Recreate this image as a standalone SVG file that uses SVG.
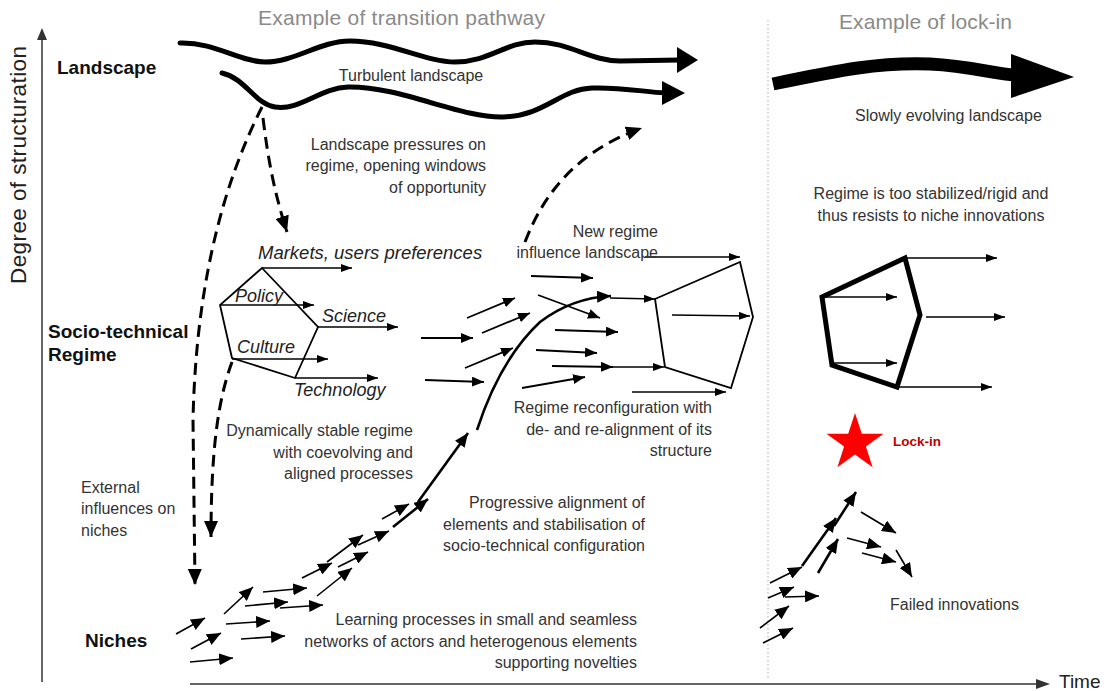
<svg xmlns="http://www.w3.org/2000/svg" width="1109" height="691" viewBox="0 0 1109 691">
<defs>
<style>
.t{font-family:"Liberation Sans",Arial,sans-serif;font-size:16px;fill:#333}
.it{font-family:"Liberation Sans",Arial,sans-serif;font-size:18px;font-style:italic;fill:#222}
.b{font-family:"Liberation Sans",Arial,sans-serif;font-size:19px;font-weight:bold;fill:#111}
.ttl{font-family:"Liberation Sans",Arial,sans-serif;font-size:21px;fill:#8a8a8a}
.e{text-anchor:end}
.m{text-anchor:middle}
.ln{fill:none;stroke:#000;stroke-width:1.8}
.lnS{fill:none;stroke:#000;stroke-width:1.6;marker-end:url(#ahS)}
.lnM{fill:none;stroke:#000;stroke-width:1.8;marker-end:url(#ahM)}
.lnL{fill:none;stroke:#000;stroke-width:1.6;marker-end:url(#ahL)}
.lnT{fill:none;stroke:#000;stroke-width:2.6;marker-end:url(#ahL)}
.dash{fill:none;stroke:#000;stroke-width:3;stroke-dasharray:12 7;marker-end:url(#ahD)}
.wave{fill:none;stroke:#000;stroke-width:5;stroke-linecap:round}
</style>
<marker id="ahS" markerUnits="userSpaceOnUse" markerWidth="11" markerHeight="8" refX="11" refY="4" orient="auto"><path d="M0,0 L11,4 L0,8 z" fill="#000"/></marker>
<marker id="ahM" markerUnits="userSpaceOnUse" markerWidth="12" markerHeight="10" refX="12" refY="5" orient="auto"><path d="M0,0 L12,5 L0,10 z" fill="#000"/></marker>
<marker id="ahL" markerUnits="userSpaceOnUse" markerWidth="14" markerHeight="12" refX="14" refY="6" orient="auto"><path d="M0,0 L14,6 L0,12 z" fill="#000"/></marker>
<marker id="ahD" markerUnits="userSpaceOnUse" markerWidth="16" markerHeight="14" refX="16" refY="7" orient="auto"><path d="M0,0 L16,7 L0,14 z" fill="#000"/></marker>
</defs>
<rect width="1109" height="691" fill="#fff"/>

<g id="axes">
<line x1="42" y1="682" x2="42" y2="38" stroke="#333" stroke-width="1.5"/>
<polygon points="37,40 42,28 47,40" fill="#333"/>
<line x1="190" y1="684" x2="1040" y2="684" stroke="#333" stroke-width="1.5"/>
<polygon points="1036,679 1050,684 1036,689" fill="#333"/>
<line x1="768" y1="20" x2="768" y2="680" stroke="#aaa" stroke-width="1" stroke-dasharray="1.5 2.5"/>
<text class="t" style="font-size:22.5px;fill:#222" transform="translate(26,284) rotate(-90)" textLength="238">Degree of structuration</text>
<text class="t" style="font-size:19px;fill:#222" x="1059" y="688">Time</text>
</g>

<g id="titles">
<text class="ttl" x="258" y="25" textLength="287">Example of transition pathway</text>
<text class="ttl" x="839" y="29" textLength="173">Example of lock-in</text>
</g>

<g id="level-labels">
<text class="b" x="57" y="74">Landscape</text>
<text class="b" x="48" y="338">Socio-technical</text>
<text class="b" x="48" y="361">Regime</text>
<text class="b" x="85" y="647">Niches</text>
</g>

<g id="landscape-turbulent">
<path class="wave" d="M180,43 C215,42 240,62 265,62 C295,62 320,41 350,41 C390,41 425,62 455,62 C490,62 505,42 535,42 C570,42 590,61 620,61 L680,60"/>
<polygon points="677,47 698,60 677,73" fill="#000"/>
<path class="wave" d="M222,73 C245,78 255,104 275,107 C300,111 320,88 348,87 C400,86 460,118 503,117 C545,116 560,89 592,88 C620,87 645,92 665,93"/>
<polygon points="662,81 685,93 662,105" fill="#000"/>
<text class="t m" x="411" y="81">Turbulent landscape</text>
</g>

<g id="landscape-slow">
<path d="M773,84 C840,70 880,62 930,64 C970,66 995,74 1015,75" fill="none" stroke="#000" stroke-width="13"/>
<polygon points="1011,54 1074,77 1011,98" fill="#000"/>
<text class="t" x="855" y="121">Slowly evolving landscape</text>
</g>

<g id="regime-stable">
<polygon class="ln" points="262,268 318,327 295,378 232,358 220,305"/>
<line class="lnS" x1="262" y1="268" x2="352" y2="268"/>
<line class="lnS" x1="220" y1="305" x2="314" y2="305"/>
<line class="lnS" x1="318" y1="327" x2="398" y2="327"/>
<line class="lnS" x1="232" y1="359" x2="328" y2="359"/>
<line class="lnS" x1="295" y1="378" x2="378" y2="378"/>
<text class="it" x="258" y="259" style="font-size:18.5px">Markets, users preferences</text>
<text class="it" x="235" y="302">Policy</text>
<text class="it" x="322" y="322">Science</text>
<text class="it" x="237" y="353">Culture</text>
<text class="it" x="294" y="396">Technology</text>
</g>

<g id="regime-new">
<polygon class="ln" points="655,299 740,262 753,317 731,388 665,367"/>
<line class="lnS" x1="672" y1="315" x2="750" y2="316"/>
</g>

<g id="regime-locked">
<polygon points="905,258 822,297 832,365 897,387 920,315" fill="none" stroke="#000" stroke-width="5" stroke-linejoin="miter"/>
<line class="lnS" x1="905" y1="258" x2="997" y2="258"/>
<line class="lnS" x1="826" y1="297" x2="897" y2="297"/>
<line class="lnS" x1="926" y1="317" x2="1005" y2="317"/>
<line class="lnS" x1="834" y1="363" x2="897" y2="363"/>
<line class="lnS" x1="898" y1="387" x2="992" y2="387"/>
</g>

<g id="lock-in-star">
<polygon points="855,413 861.8,433.7 883.5,433.7 865.9,446.6 872.6,467.3 855,454.5 837.4,467.3 844.1,446.6 826.5,433.7 848.2,433.7" fill="#ff0000"/>
<text class="t" x="893" y="446" style="font-size:13.5px;font-weight:bold;fill:#c00000">Lock-in</text>
</g>

<g id="connectors">
<path class="dash" d="M262,107 C225,180 196,280 193,420 L195,585"/>
<path class="dash" d="M263,118 C268,160 275,195 287,232"/>
<path class="dash" d="M232,362 C218,400 211,450 211,537"/>
<path class="dash" d="M525,242 C545,190 580,150 642,128"/>
<line class="lnM" x1="421" y1="338" x2="473" y2="338"/>
<line class="lnM" x1="425" y1="380" x2="484" y2="382"/>
<line class="lnM" x1="467" y1="318" x2="515" y2="298"/>
<line class="lnM" x1="482" y1="333" x2="530" y2="313"/>
<line class="lnM" x1="465" y1="368" x2="513" y2="348"/>
<line class="lnM" x1="531" y1="276" x2="593" y2="278"/>
<line class="lnM" x1="538" y1="295" x2="600" y2="318"/>
<line class="lnM" x1="555" y1="330" x2="618" y2="332"/>
<line class="lnM" x1="536" y1="350" x2="597" y2="353"/>
<line class="lnM" x1="552" y1="366" x2="613" y2="367"/>
<line class="lnS" x1="610" y1="367" x2="664" y2="367"/>
<line class="lnM" x1="522" y1="388" x2="585" y2="377"/>
<line class="lnS" x1="632" y1="392" x2="726" y2="392"/>
<line class="lnS" x1="645" y1="257" x2="740" y2="257"/>
<line class="lnS" x1="610" y1="298" x2="655" y2="299"/>
<path class="lnT" d="M477,430 C490,390 510,350 540,322 C565,303 590,297 611,296"/>
<line class="lnT" x1="418" y1="502" x2="468" y2="433"/>
<line class="lnT" x1="393" y1="527" x2="428" y2="499"/>
<line class="lnL" x1="382" y1="519" x2="409" y2="504"/>
<line class="lnL" x1="176" y1="634" x2="205" y2="618"/>
<line class="lnL" x1="191" y1="649" x2="221" y2="633"/>
<line class="lnL" x1="190" y1="662" x2="233" y2="658"/>
<line class="lnL" x1="226" y1="624" x2="270" y2="621"/>
<line class="lnL" x1="241" y1="639" x2="285" y2="636"/>
<line class="lnL" x1="224" y1="614" x2="253" y2="587"/>
<line class="lnL" x1="245" y1="606" x2="288" y2="602"/>
<line class="lnL" x1="263" y1="592" x2="307" y2="588"/>
<line class="lnL" x1="280" y1="608" x2="323" y2="605"/>
<line class="lnL" x1="302" y1="578" x2="332" y2="563"/>
<line class="lnL" x1="317" y1="596" x2="352" y2="568"/>
<line class="lnL" x1="327" y1="562" x2="363" y2="535"/>
<line class="lnL" x1="338" y1="567" x2="368" y2="552"/>
<line class="lnL" x1="358" y1="545" x2="389" y2="531"/>
<line class="lnL" x1="763" y1="643" x2="793" y2="628"/>
<line class="lnL" x1="760" y1="628" x2="789" y2="606"/>
<line class="lnL" x1="768" y1="598" x2="794" y2="587"/>
<line class="lnL" x1="785" y1="597" x2="819" y2="596"/>
<line class="lnL" x1="770" y1="583" x2="802" y2="567"/>
<line class="lnT" x1="802" y1="566" x2="836" y2="518"/>
<line class="lnT" x1="834" y1="526" x2="856" y2="492"/>
<line class="lnT" x1="818" y1="573" x2="838" y2="539"/>
<line class="lnL" x1="847" y1="538" x2="881" y2="547"/>
<line class="lnL" x1="861" y1="512" x2="896" y2="533"/>
<line class="lnL" x1="862" y1="553" x2="896" y2="562"/>
<line class="lnL" x1="896" y1="550" x2="912" y2="577"/>
</g>

<g id="annotations">
<text class="t e" x="486" y="150">Landscape pressures on</text>
<text class="t e" x="486" y="171">regime, opening windows</text>
<text class="t e" x="486" y="193">of opportunity</text>
<text class="t m" x="931" y="199">Regime is too stabilized/rigid and</text>
<text class="t m" x="931" y="221">thus resists to niche innovations</text>
<text class="t e" x="658" y="237">New regime</text>
<text class="t e" x="658" y="258">influence landscape</text>
<text class="t e" x="712" y="413">Regime reconfiguration with</text>
<text class="t e" x="712" y="435">de- and re-alignment of its</text>
<text class="t e" x="712" y="456">structure</text>
<text class="t e" x="413" y="436">Dynamically stable regime</text>
<text class="t e" x="413" y="458">with coevolving and</text>
<text class="t e" x="413" y="479">aligned processes</text>
<text class="t e" x="645" y="508">Progressive alignment of</text>
<text class="t e" x="645" y="530">elements and stabilisation of</text>
<text class="t e" x="645" y="551">socio-technical configuration</text>
<text class="t e" x="637" y="625">Learning processes in small and seamless</text>
<text class="t e" x="637" y="647">networks of actors and heterogenous elements</text>
<text class="t e" x="637" y="668">supporting novelties</text>
<text class="t" x="81" y="493">External</text>
<text class="t" x="81" y="514">influences on</text>
<text class="t" x="81" y="536">niches</text>
<text class="t" x="890" y="610">Failed innovations</text>
</g>
</svg>
